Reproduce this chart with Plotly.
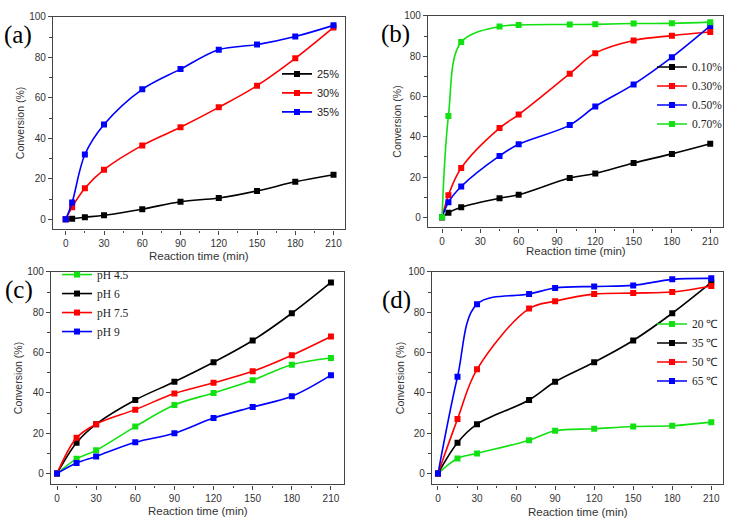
import plotly.graph_objects as go

W, H = 732, 522

# ---------------- data ----------------
# (a) effect of concentration
time_a = [0, 5, 15, 30, 60, 90, 120, 150, 180, 210]
a_25 = [0, 0.3, 1.0, 2.0, 5.0, 8.7, 10.5, 14.0, 18.5, 22.0]
a_30 = [0, 6.0, 15.3, 24.5, 36.5, 45.5, 55.3, 66.0, 79.5, 94.8]
a_35 = [0, 8.3, 32.0, 46.8, 64.2, 74.2, 83.8, 86.3, 90.3, 95.8]

# (b) effect of dosage
time_b = [0, 5, 15, 45, 60, 100, 120, 150, 180, 210]
b_010 = [0, 2.3, 5.0, 9.5, 11.2, 19.5, 21.8, 27.0, 31.5, 36.5]
b_030 = [0, 11.0, 24.5, 44.3, 51.0, 71.3, 81.5, 87.8, 90.2, 92.0]
b_050 = [0, 7.5, 15.3, 30.5, 36.3, 45.8, 55.0, 66.0, 79.5, 95.0]
b_070 = [0, 50.3, 87.0, 94.7, 95.5, 95.7, 95.8, 96.2, 96.3, 96.9]

# (c) effect of pH
time_c = [0, 15, 30, 60, 90, 120, 150, 180, 210]
c_45 = [0, 7.3, 11.5, 23.3, 34.0, 40.0, 46.3, 54.0, 57.3]
c_6 = [0, 15.3, 24.5, 36.5, 45.5, 55.2, 66.0, 79.5, 94.8]
c_75 = [0, 17.7, 24.5, 31.7, 39.7, 45.0, 50.7, 58.7, 68.0]
c_9 = [0, 5.2, 8.5, 15.5, 20.0, 27.5, 33.0, 38.3, 48.8]

# (d) effect of temperature
time_d = [0, 15, 30, 70, 90, 120, 150, 180, 210]
d_20 = [0, 7.5, 10.0, 16.5, 21.2, 22.2, 23.3, 23.7, 25.5]
d_35 = [0, 15.3, 24.5, 36.5, 45.5, 55.2, 66.0, 79.5, 94.8]
d_50 = [0, 27.0, 51.7, 81.8, 85.5, 89.0, 89.5, 90.0, 93.0]
d_65 = [0, 48.0, 84.0, 89.0, 92.0, 92.8, 93.3, 96.3, 96.8]

x_ticks = [0, 30, 60, 90, 120, 150, 180, 210]
y_ticks = [0, 20, 40, 60, 80, 100]

BLACK, RED, BLUE, GREEN = "#000000", "#ff0000", "#0000ff", "#11e011"
SANS = "Liberation Sans, Arial, sans-serif"
SERIF = "Liberation Serif, Times New Roman, serif"

fig = go.Figure()


def add(x, y, name, color, ax, legend, rank):
    fig.add_trace(go.Scatter(
        x=x, y=y, name=name, mode="lines+markers",
        line=dict(color=color, width=1.6, shape="spline", smoothing=1.0),
        marker=dict(symbol="square", size=6, color=color),
        xaxis="x" + ax, yaxis="y" + ax, legend=legend, legendrank=rank,
    ))


add(time_a, a_25, "25%", BLACK, "", "legend", 1)
add(time_a, a_30, "30%", RED, "", "legend", 2)
add(time_a, a_35, "35%", BLUE, "", "legend", 3)

add(time_b, b_010, "0.10%", BLACK, "2", "legend2", 1)
add(time_b, b_030, "0.30%", RED, "2", "legend2", 2)
add(time_b, b_050, "0.50%", BLUE, "2", "legend2", 3)
add(time_b, b_070, "0.70%", GREEN, "2", "legend2", 4)

add(time_c, c_6, "pH 6", BLACK, "3", "legend3", 2)
add(time_c, c_45, "pH 4.5", GREEN, "3", "legend3", 1)
add(time_c, c_75, "pH 7.5", RED, "3", "legend3", 3)
add(time_c, c_9, "pH 9", BLUE, "3", "legend3", 4)

add(time_d, d_20, "20 ℃", GREEN, "4", "legend4", 1)
add(time_d, d_35, "35 ℃", BLACK, "4", "legend4", 2)
add(time_d, d_50, "50 ℃", RED, "4", "legend4", 3)
add(time_d, d_65, "65 ℃", BLUE, "4", "legend4", 4)

# pixel boxes: (left, right, top, bottom), x range, y range, title offsets
panels = {
    "": ((53, 345, 11, 226), [-10, 219], [-5, 100], 27, 33),
    "2": ((428, 723, 10, 224), [-11, 220], [-5, 100], 24, 31),
    "3": ((51, 344, 269, 484), [-4.6, 220], [-5.4, 100], 27, 33),
    "4": ((432, 723, 269, 484), [-4.6, 219], [-5.4, 100], 28, 32),
}

axis_common = dict(
    showline=True, linecolor="#444", linewidth=1.2, mirror=True,
    ticks="outside", ticklen=4, tickwidth=1, tickcolor="#444",
    tickfont=dict(family=SANS, size=10, color="#333"),
    showgrid=False, zeroline=False,
)

annotations = []
for key, ((l, r, t, b), xr, yr, xt_off, yt_off) in panels.items():
    xa = dict(axis_common, domain=[l / W, r / W], range=xr, tickvals=x_ticks,
              anchor="y" + key,
              minor=dict(ticks="outside", ticklen=2.5, tickcolor="#444", dtick=15, tick0=0))
    ya = dict(axis_common, domain=[1 - b / H, 1 - t / H], range=yr, tickvals=y_ticks,
              anchor="x" + key,
              minor=dict(ticks="outside", ticklen=2.5, tickcolor="#444", dtick=10, tick0=0))
    fig.layout["xaxis" + key] = xa
    fig.layout["yaxis" + key] = ya
    # axis titles
    annotations.append(dict(
        text="Reaction time (min)", xref="paper", yref="paper",
        x=(l + r) / 2 / W, y=1 - (b + xt_off) / H, showarrow=False,
        font=dict(family=SANS, size=11.5, color="#333"), xanchor="center", yanchor="middle"))
    annotations.append(dict(
        text="Conversion (%)", xref="paper", yref="paper",
        x=(l - yt_off) / W, y=1 - (t + b) / 2 / H, showarrow=False, textangle=-90,
        font=dict(family=SANS, size=10.5, color="#333"), xanchor="center", yanchor="middle"))

labels = [("(a)", 18, 29), ("(b)", 395, 28), ("(c)", 19, 287), ("(d)", 396, 297)]
for txt, px, py in labels:
    annotations.append(dict(text=txt, xref="paper", yref="paper", x=px / W, y=1 - py / H,
                            xanchor="center", yanchor="middle",
                            showarrow=False, font=dict(family=SERIF, size=25, color="#000")))

leg_common = dict(xanchor="left", yanchor="top", bgcolor="rgba(0,0,0,0)",
                  tracegroupgap=0, borderwidth=0)
fig.update_layout(
    width=W, height=H, margin=dict(l=0, r=0, t=0, b=0),
    paper_bgcolor="white", plot_bgcolor="white", showlegend=True,
    annotations=annotations,
    legend=dict(leg_common, x=277 / W, y=1 - 54 / H,
                font=dict(family=SANS, size=11, color="#222")),
    legend2=dict(leg_common, x=652 / W, y=1 - 47 / H,
                 font=dict(family=SERIF, size=11.5, color="#222")),
    legend3=dict(leg_common, x=57 / W, y=1 - 257 / H,
                 font=dict(family=SERIF, size=11.5, color="#222")),
    legend4=dict(leg_common, x=652 / W, y=1 - 307 / H,
                 font=dict(family=SERIF, size=11.5, color="#222")),
)

fig.write_html("out.html", config={"displayModeBar": False},
               post_script="document.body.style.margin='0';document.body.style.padding='0';")
